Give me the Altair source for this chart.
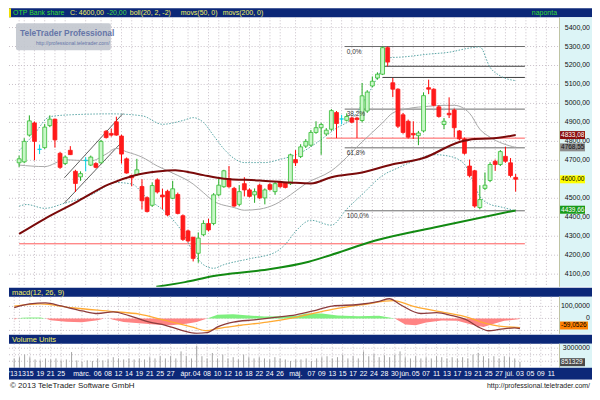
import altair as alt
import pandas as pd
import numpy as np

# ---------------- data ----------------
opens = [4687,4692,4833,4897,4758,4767,4883,4917,4737,4683,
         4753,4642,4613,4700,4675,4683,4687,4853,4842,4903,
         4828,4708,4620,4625,4562,4503,4463,4597,4517,4537,
         4500,4520,4408,4328,4295,4210,4308,4367,4367,4518,
         4561,4603,4552,4468,4577,4544,4518,4569,4502,4572,
         4535,4586,4581,4577,4704,4720,4775,4780,4847,4872,
         4839,4864,4952,4918,4911,4923,4923,4910,4960,5092,
         5134,5154,5294,5109,5075,4940,4906,4842,4830,4855,
         5083,5075,4982,4889,4948,4965,4855,4813,4670,4645,
         4451,4552,4594,4695,4678,4721,4687,4610]
highs = [4725,4817,4937,4905,4783,4892,4937,4920,4745,4725,
         4775,4650,4642,4717,4725,4690,4808,4860,4867,4930,
         4835,4715,4625,4708,4600,4510,4583,4605,4550,4545,
         4592,4530,4415,4335,4295,4320,4384,4392,4527,4603,
         4650,4670,4560,4569,4611,4552,4552,4577,4552,4580,
         4586,4592,4586,4735,4754,4785,4812,4860,4906,4898,
         4870,4970,4960,4940,4948,4930,4930,5108,5070,5142,
         5164,5300,5300,5134,5080,4950,4915,4906,4855,5058,
         5125,5080,4990,4923,5032,4973,4860,4820,4704,4650,
         4569,4636,4690,4704,4754,4771,4712,4628]
lows = [4665,4685,4825,4700,4733,4760,4875,4767,4655,4675,
        4728,4533,4592,4642,4670,4658,4683,4815,4825,4830,
        4683,4630,4563,4617,4442,4425,4455,4525,4442,4405,
        4495,4415,4275,4268,4167,4160,4300,4325,4358,4510,
        4555,4555,4455,4459,4510,4505,4476,4495,4468,4540,
        4518,4555,4552,4570,4670,4712,4765,4772,4840,4729,
        4830,4855,4817,4890,4905,4895,4817,4900,4950,5085,
        5125,5150,5196,5033,4870,4840,4815,4813,4780,4847,
        5049,4985,4925,4864,4923,4822,4805,4730,4610,4450,
        4442,4543,4585,4645,4670,4687,4610,4535]
closes = [4708,4800,4908,4800,4758,4875,4917,4808,4663,4717,
          4730,4578,4630,4700,4717,4663,4800,4820,4833,4833,
          4733,4633,4608,4650,4487,4430,4567,4533,4507,4412,
          4550,4420,4283,4275,4183,4290,4367,4333,4518,4569,
          4645,4561,4459,4535,4544,4510,4535,4502,4544,4547,
          4577,4561,4557,4729,4687,4771,4800,4847,4872,4889,
          4859,4962,4894,4918,4931,4901,4915,5040,5060,5117,
          5154,5294,5218,5075,4880,4847,4822,4834,4844,5041,
          5075,4990,4931,4906,4940,4872,4813,4737,4619,4459,
          4493,4569,4678,4678,4746,4695,4620,4600]
volumes = [1430000,1620000,2020000,1620000,1280000,1130000,1430000,1280000,1430000,1130000,
           1280000,2410000,1130000,930000,1130000,1030000,1430000,1130000,1280000,1620000,
           1430000,1280000,1430000,1280000,1430000,1280000,1620000,1430000,1770000,1430000,
           1770000,1430000,2510000,1770000,1430000,3400000,1770000,1430000,2270000,1430000,
           2020000,1430000,1620000,1280000,2020000,1620000,1430000,1620000,1430000,1280000,
           1620000,1430000,1280000,1030000,1280000,1280000,1430000,1030000,1430000,1620000,
           1770000,1430000,1620000,2020000,1430000,1770000,1430000,2510000,1770000,2120000,
           1620000,1920000,1620000,2020000,2510000,1620000,1430000,1770000,1430000,1620000,
           1430000,1770000,1620000,1430000,1620000,1430000,1620000,1430000,2020000,2270000,
           1770000,1430000,1770000,1430000,1770000,1620000,1430000,851329]

# Bollinger bands / moving averages (index, value) read at sample points
bb_up_i = [0,3,6,10,18,24,28,32,34,36,38,40,42,44,48,51,55,58,62,65,68,71,72,75,80,84,88,90,92,94,97]
bb_up_v = [4750,4840,4930,4940,4945,4935,4890,4910,4925,4900,4830,4760,4710,4688,4688,4705,4740,4790,4870,4920,5040,5190,5240,5245,5260,5270,5292,5298,5190,5145,5120]
bb_mid_i = [0,5,9,14,17,19,21,24,27,30,34,36,38,42,44,47,50,53,56,61,67,71,73,76,80,83,85,88,90,92,97]
bb_mid_v = [4675,4667,4703,4697,4733,4763,4745,4717,4670,4633,4575,4530,4485,4451,4437,4443,4468,4518,4577,4645,4797,4898,4950,4973,4985,4990,4990,4948,4864,4822,4768]
bb_lo_i = [0,1.5,5,9,14,19,22,25,29,32,34,36,38,40,45,50,52,54,57,61,64,67,71,74,77,81,84,87,88,90,92,94,97]
bb_lo_v = [4458,4467,4447,4475,4517,4583,4575,4500,4417,4317,4217,4150,4131,4150,4181,4215,4257,4325,4384,4358,4443,4520,4620,4660,4695,4730,4722,4680,4630,4510,4468,4455,4434]
ma50_i = [0,5,11,17.5,22.5,27,30.5,33.5,36,40,47,53,57,61,67,73,79,86,89,92,97]
ma50_v = [4312,4392,4477,4573,4620,4641,4648,4636,4622,4603,4594,4583,4578,4611,4636,4679,4712,4797,4813,4815,4833]
ma200_i = [26.8,32.4,38,47.3,56.6,60.8,69.6,82,97]
ma200_v = [4033,4058,4090,4120,4165,4200,4277,4351,4436]

# drawn horizontal levels and channel
level_y = [5300,4970,4766,4434,5196,5137,4817,4260]
level_x1 = [63.6,63.6,63.6,63.6,71,71,60,0]
level_x2 = [98.8,98.8,98.8,98.8,98.8,98.8,98.8,98.8]
level_color = ["#6a6a6a","#6a6a6a","#6a6a6a","#6a6a6a","#3c3c3c","#3c3c3c","#ff5a5a","#ff5a5a"]
fib_levels = [5300,4970,4766,4434]
fib_labels = ["0,0%","38,2%","61,8%","100,0%"]
chan_x1 = [8.85,8.85]; chan_x2 = [20.3,20.3]
chan_y1 = [4608,4475]; chan_y2 = [4947,4803]

# MACD
macd_i = [0,3,6,9,13,16,19,22,26,29,32,35,37,39,42,46,50,54,58,61,66,70,72,74,78,81,84,87,89,91,93,96,97]
macd_v = [90,121,129,104,63,41,55,23,-31,-57,-97,-124,-119,-71,-31,-12,9,30,70,103,116,143,164,116,41,49,23,-17,-71,-103,-92,-79,-84]
sig_i = [0,5,11,19,24,29,34,37,39,43.5,48.5,54,61,67,72.7,76.4,82.6,87,90.6,93,97]
sig_v = [103,121,89,57,36,-17,-71,-103,-84,-57,-31,9,76,116,148,103,49,9,-44,-65,-76]
hist_i = [0,0.8,1.5,3,5,6,7,10,13,16,17.3,18.2,19,21,24,27,30,33,35,37,39,42,45,48,51,54,56,59,62,66,70,73,75,77,79,82,85,88,90,92,94,97]
hist_v = [-8,0,6,8,8,0,-15,-28,-31,-15,0,0,-12,-30,-40,-50,-57,-45,-30,0,30,34,25,15,18,20,42,40,25,18,22,0,-50,-57,-35,-17,-20,-55,-71,-45,-20,-5]

# axis labels and tags
price_ticks = [4100,4200,4300,4400,4500,4700,4800,4900,5000,5100,5200,5300,5400]
price_tags = [4833.08, 4768.55, 4600.00, 4439.66]
price_tag_bg = ["#8b0d0d", "#8c8c8c", "#ffff00", "#179a17"]
price_tag_fg = ["#ffffff", "#111111", "#000000", "#ffffff"]
macd_ticks = [100, 0]
macd_tick_labels = ["100,0000", "0"]
macd_tag = -59.0526
vol_ticks = [3000000]
vol_tag = 851329

label_days = ["02-12","02-13","02-15","02-19","02-21","02-25","03-01","03-06","03-08","03-12","03-14","03-19","03-21","03-25","03-27",
              "04-02","04-04","04-08","04-10","04-12","04-16","04-18","04-22","04-24","04-26","05-02","05-07","05-09","05-13","05-15",
              "05-17","05-22","05-24","05-28","05-30","06-03","06-05","06-07","06-11","06-13","06-17","06-19","06-21","06-25","06-27",
              "07-01","07-03","07-05","07-09","07-11"]
label_text = ["'13","13","15","19","21","25","márc.","06","08","12","14","19","21","25","27",
              "ápr.","04","08","10","12","16","18","22","24","26","máj.","07","09","13","15",
              "17","22","24","28","30","jún.","05","07","11","13","17","19","21","25","27",
              "júl.","03","05","09","11"]

# ---------------- layout / styles ----------------
FONT = "Liberation Sans, Arial, sans-serif"
NAVY = "#0c2878"
CYAN = "#dcf4f6"
GRID = "#c8c0c8"
W, AX = 551, 33
TW = W + AX
H_TITLE, H_PRICE, H_MHEAD, H_MACD, H_VHEAD, H_VOL, H_DATE, H_FOOT = 9, 270, 10, 37, 10, 24, 12, 12

xs = alt.Scale(domain=[-1.0, 104.5], nice=False, zero=False)
ys_p = alt.Scale(domain=[4033, 5454], nice=False, zero=False)
ys_m = alt.Scale(domain=[-128, 180], nice=False, zero=False)
ys_v = alt.Scale(domain=[0, 3690000], nice=False, zero=False)

one = pd.DataFrame({"k": [0]})


def X(f="i"):
    return alt.X(f"{f}:Q", scale=xs, axis=None)


def box(x1, x2, y1, y2, color, **kw):
    return alt.Chart(one).mark_rect(color=color, **kw).encode(
        x=alt.value(x1), x2=alt.value(x2), y=alt.value(y1), y2=alt.value(y2))


def txt(s, x, y, color, size=7.5, align="left", weight="normal", dx=0):
    return alt.Chart(one).mark_text(text=s, align=align, baseline="middle", fontSize=size, dx=dx,
                                    color=color, font=FONT, fontWeight=weight).encode(
        x=alt.value(x), y=alt.value(y))


holidays = {"2013-03-15", "2013-04-01", "2013-05-01", "2013-05-20"}
trading_days = [d for d in pd.bdate_range("2013-02-12", "2013-07-11")
                if d.strftime("%Y-%m-%d") not in holidays]
day_index = {d.strftime("%m-%d"): i for i, d in enumerate(trading_days)}
lab_df = pd.DataFrame({"i": [day_index[d] for d in label_days], "t": label_text})


def vgrid(h):
    return alt.Chart(lab_df).mark_rule(color=GRID, strokeDash=[1, 2], strokeWidth=1).encode(
        x=X(), y=alt.value(0), y2=alt.value(h))


def hgrid(vals, ys):
    return alt.Chart(pd.DataFrame({"v": vals})).mark_rule(color=GRID, strokeDash=[1, 2]).encode(
        y=alt.Y("v:Q", scale=ys, axis=None), x=alt.value(0), x2=alt.value(W))


def line(ii, vv, color, ys, width=1.0, dash=None):
    kw = dict(color=color, strokeWidth=width, interpolate="monotone", clip=True)
    if dash:
        kw["strokeDash"] = dash
    return alt.Chart(pd.DataFrame({"i": ii, "v": vv})).mark_line(**kw).encode(
        x=X(), y=alt.Y("v:Q", scale=ys, axis=None))


def ticklabels(vals, labels, ys, size=7.5):
    return alt.Chart(pd.DataFrame({"v": vals, "t": labels})).mark_text(
        align="right", baseline="middle", fontSize=size, font=FONT, color="#111111").encode(
        x=alt.value(TW - 2), y=alt.Y("v:Q", scale=ys, axis=None), text="t:N")


def tag(v, label, bg, fg, ys, x2):
    df = pd.DataFrame({"v": [v], "t": [label]})
    r = alt.Chart(df).mark_rule(strokeWidth=8, color=bg).encode(
        x=alt.value(W + 1), x2=alt.value(W + x2), y=alt.Y("v:Q", scale=ys, axis=None))
    t = alt.Chart(df).mark_text(align="left", baseline="middle", fontSize=6.5, font=FONT, color=fg).encode(
        x=alt.value(W + 2), y=alt.Y("v:Q", scale=ys, axis=None), text="t:N")
    return [r, t]


# ---------------- title bar ----------------
YEL = "#f0f060"
title = alt.layer(
    box(0, TW, 0, H_TITLE, NAVY),
    box(0, 2, 0, H_TITLE, "#f0e000"),
    txt("OTP Bank share", 4, 5, "#33dd33", 7),
    txt("C: 4600,00", 61, 5, YEL, 7),
    txt("-20,00", 98, 5, "#44dd44", 7),
    txt("boll(20, 2, -2)", 121, 5, YEL, 7),
    txt("movs(50, 0)", 172, 5, YEL, 7),
    txt("movs(200, 0)", 214, 5, YEL, 7),
    txt("naponta", W - 2, 5, "#33dd33", 7, align="right"),
).properties(width=W, height=H_TITLE)

# ---------------- price panel ----------------
cdf = pd.DataFrame({"i": np.arange(len(closes)), "o": opens, "h": highs, "l": lows, "c": closes})
cdf["d"] = np.where(cdf.c > cdf.o, "up", np.where(cdf.c < cdf.o, "down", "flat"))
dir_dom = ["up", "down", "flat"]
wicks = alt.Chart(cdf).mark_rule(strokeWidth=1).encode(
    x=X(), y=alt.Y("l:Q", scale=ys_p, axis=None), y2="h:Q",
    color=alt.Color("d:N", scale=alt.Scale(domain=dir_dom, range=["#22aa22", "#ff0000", "#00d0e0"]), legend=None))
bodies = alt.Chart(cdf).mark_bar(size=3.9, strokeWidth=0.8).encode(
    x=X(), y=alt.Y("o:Q", scale=ys_p, axis=None), y2="c:Q",
    fill=alt.Fill("d:N", scale=alt.Scale(domain=dir_dom, range=["#c8f7c8", "#ff1a1a", "#00d0e0"]), legend=None),
    stroke=alt.Stroke("d:N", scale=alt.Scale(domain=dir_dom, range=["#33bb33", "#ff1a1a", "#00d0e0"]), legend=None))

hl = pd.DataFrame({"y": level_y, "x1": level_x1, "x2": level_x2, "col": level_color})
levels = alt.Chart(hl).mark_rule(strokeWidth=1).encode(
    x=X("x1"), x2="x2:Q", y=alt.Y("y:Q", scale=ys_p, axis=None),
    stroke=alt.Stroke("col:N", scale=None, legend=None))
chan = alt.Chart(pd.DataFrame({"x1": chan_x1, "x2": chan_x2, "y1": chan_y1, "y2": chan_y2})).mark_rule(
    color="#606060", strokeWidth=1).encode(x=X("x1"), x2="x2:Q", y=alt.Y("y1:Q", scale=ys_p, axis=None), y2="y2:Q")
fibtxt = alt.Chart(pd.DataFrame({"v": fib_levels, "t": fib_labels, "i": [64.0] * 4})).mark_text(
    align="left", baseline="middle", dy=5, fontSize=6.5, font=FONT, color="#333333").encode(
    x=X(), y=alt.Y("v:Q", scale=ys_p, axis=None), text="t:N")

price_layers = [
    box(W, TW, 0, H_PRICE, CYAN),
    vgrid(H_PRICE), hgrid(price_ticks + [4600], ys_p),
    box(7, 102, 6, 33, "#c2c6ce", opacity=0.9, cornerRadius=2),
    txt("TeleTrader Professional", 11, 16, "#6676a8", 8.4, weight="bold"),
    txt("http://professional.teletrader.com/", 27, 26, "#6676a8", 5),
    levels, chan,
    line(bb_up_i, bb_up_v, "#5aa6a6", ys_p, 1, [1.5, 1.5]),
    line(bb_lo_i, bb_lo_v, "#5aa6a6", ys_p, 1, [1.5, 1.5]),
    line(bb_mid_i, bb_mid_v, "#a8a8a8", ys_p, 1),
    line(ma200_i, ma200_v, "#128a12", ys_p, 2),
    wicks, bodies,
    line(ma50_i, ma50_v, "#7a0a0a", ys_p, 2),
    fibtxt,
    box(W, W + 0.8, 0, H_PRICE, "#b8b890"),
    ticklabels(price_ticks, [f"{v},00" for v in price_ticks], ys_p, 7),
]
for v, bg, fg in zip(price_tags, price_tag_bg, price_tag_fg):
    price_layers += tag(v, f"{v:.2f}".replace(".", ","), bg, fg, ys_p, 26)
price = alt.layer(*price_layers).resolve_scale(
    color="independent", fill="independent", stroke="independent").properties(width=W, height=H_PRICE)

# ---------------- MACD ----------------
mhead = alt.layer(box(0, TW, 1, H_MHEAD, NAVY), txt("macd(12, 26, 9)", 3, 5.8, YEL, 7.5)).properties(width=W, height=H_MHEAD)
hdf = pd.DataFrame({"i": hist_i, "v": hist_v})
hdf["p"] = hdf.v.clip(lower=0)
hdf["n"] = hdf.v.clip(upper=0)
hdf["z"] = 0
hpos = alt.Chart(hdf).mark_area(color="#7ef07e").encode(x=X(), y=alt.Y("p:Q", scale=ys_m, axis=None), y2="z:Q")
hneg = alt.Chart(hdf).mark_area(color="#ff8484").encode(x=X(), y=alt.Y("n:Q", scale=ys_m, axis=None), y2="z:Q")
macd = alt.layer(
    box(W, TW, 0, H_MACD, CYAN), vgrid(H_MACD), hgrid([100, 0, -100], ys_m),
    hpos, hneg,
    line(sig_i, sig_v, "#ffaa33", ys_m, 1.3),
    line(macd_i, macd_v, "#8c3c3c", ys_m, 1.3),
    box(W, W + 0.8, 0, H_MACD, "#b8b890"),
    ticklabels(macd_ticks, macd_tick_labels, ys_m, 7),
    *tag(macd_tag, f"{macd_tag:.4f}".replace(".", ","), "#ff8000", "#000000", ys_m, 29),
).properties(width=W, height=H_MACD)

# ---------------- Volume ----------------
vhead = alt.layer(box(0, TW, 1, H_VHEAD, NAVY), txt("Volume Units", 3, 5.8, YEL, 7.5)).properties(width=W, height=H_VHEAD)
vdf = pd.DataFrame({"i": np.arange(len(volumes)), "v": volumes, "z": 0})
vbars = alt.Chart(vdf).mark_rule(color="#a4a4a4", strokeWidth=1).encode(
    x=X(), y=alt.Y("v:Q", scale=ys_v, axis=None), y2="z:Q")
vol = alt.layer(
    box(W, TW, 0, H_VOL, CYAN), vgrid(H_VOL), hgrid([1000000, 2000000, 3000000], ys_v),
    vbars,
    box(W, W + 0.8, 0, H_VOL, "#b8b890"),
    ticklabels(vol_ticks, [str(v) for v in vol_ticks], ys_v, 7),
    *tag(vol_tag, str(vol_tag), "#4a4a4a", "#ffffff", ys_v, 26),
).properties(width=W, height=H_VOL)

# ---------------- date bar & footer ----------------
dates = alt.layer(
    box(0, TW, 0, H_DATE, NAVY),
    alt.Chart(lab_df.iloc[2:]).mark_text(align="center", baseline="middle", fontSize=7, font=FONT, color="#ffffff").encode(
        x=X(), y=alt.value(6), text="t:N"),
    alt.Chart(lab_df.iloc[1:2]).mark_text(align="center", baseline="middle", fontSize=7, font=FONT, color="#ffffff", dx=2.5).encode(
        x=X(), y=alt.value(6), text="t:N"),
    txt(label_text[0], 0, 6, "#ffffff", 6.5),
).properties(width=W, height=H_DATE)

foot = alt.layer(
    box(0, TW, 0, H_FOOT, "#ffffff"),
    txt("© 2013 TeleTrader Software GmbH", 1, 6.5, "#222222", 8),
    txt("http://professional.teletrader.com/", TW - 2, 6.5, "#222222", 7, align="right"),
).properties(width=W, height=H_FOOT)

chart = alt.vconcat(title, price, mhead, macd, vhead, vol, dates, foot, spacing=0, bounds="flush").properties(
    padding=0, background="#ffffff").configure_view(strokeWidth=0)

chart.save("out.html", embed_options={"renderer": "svg", "actions": False})
